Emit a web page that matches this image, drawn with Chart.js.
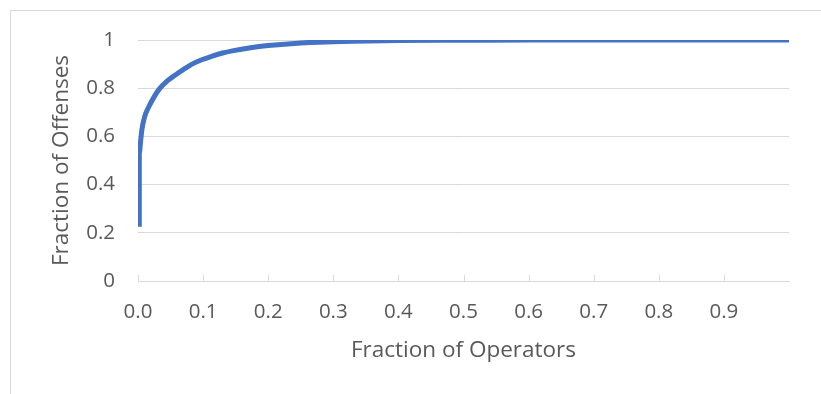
<!DOCTYPE html>
<html>
<head>
<meta charset="utf-8">
<script src="https://cdn.jsdelivr.net/npm/chart.js@4"></script>
<style>
  html, body { margin: 0; padding: 0; background: #ffffff; overflow: hidden; }
  #wrap { position: relative; width: 821px; height: 394px; }
  #frame { position: absolute; left: 10px; top: 10px; width: 900px; height: 500px; border: 1px solid #d9d9d9; }
  #c { position: absolute; left: 0; top: 0; }
</style>
</head>
<body>
<div id="wrap">
  <div id="frame"></div>
  <canvas id="c" width="821" height="394"></canvas>
</div>
<script>
// Data
const fractionOperators = [0.002, 0.002, 0.004, 0.006, 0.010, 0.017, 0.025, 0.032, 0.045, 0.058, 0.070, 0.083, 0.096, 0.114, 0.130, 0.145, 0.173, 0.200, 0.250, 0.300, 0.330, 0.400, 0.500, 0.600, 0.700, 0.800, 0.900, 1.000];
const fractionOffenses  = [0.225, 0.530, 0.580, 0.628, 0.680, 0.725, 0.765, 0.794, 0.830, 0.856, 0.878, 0.900, 0.916, 0.933, 0.946, 0.955, 0.968, 0.977, 0.988, 0.993, 0.995, 0.998, 0.999, 1.000, 1.000, 1.000, 1.000, 1.000];

const xTickValues = [0, 0.1, 0.2, 0.3, 0.4, 0.5, 0.6, 0.7, 0.8, 0.9];
const xTickLabels = ["0.0", "0.1", "0.2", "0.3", "0.4", "0.5", "0.6", "0.7", "0.8", "0.9"];
const yTickValues = [0, 0.2, 0.4, 0.6, 0.8, 1];
const yTickLabels = ["0", "0.2", "0.4", "0.6", "0.8", "1"];

const xTitle = "Fraction of Operators";
const yTitle = "Fraction of Offenses";

const points = fractionOperators.map((x, i) => ({ x: x, y: fractionOffenses[i] }));

const textColor = '#595959';
const gridColor = '#d9d9d9';
const tickFont = { family: "'Open Sans', sans-serif", size: 20.5 };
const titleFont = { family: "'Open Sans', sans-serif", size: 22.5 };

const innerTicks = {
  id: 'innerTicks',
  beforeDatasetsDraw(chart) {
    const xs = chart.scales.x;
    const ctx = chart.ctx;
    const y0 = chart.chartArea.bottom;
    ctx.save();
    ctx.strokeStyle = gridColor;
    ctx.lineWidth = 1;
    ctx.beginPath();
    xTickValues.forEach(v => {
      const px = Math.round(xs.getPixelForValue(v)) + 0.5;
      ctx.moveTo(px, y0);
      ctx.lineTo(px, y0 - 6);
    });
    ctx.stroke();
    ctx.restore();
  }
};

new Chart(document.getElementById('c'), {
  type: 'line',
  data: {
    datasets: [{
      data: points,
      borderColor: '#4472C4',
      backgroundColor: '#4472C4',
      borderWidth: 5,
      pointRadius: 0,
      fill: false,
      cubicInterpolationMode: 'monotone',
      borderCapStyle: 'butt'
    }]
  },
  options: {
    responsive: false,
    animation: false,
    events: [],
    layout: { autoPadding: false, padding: { left: 30, right: 32, top: 40, bottom: 10 } },
    plugins: { legend: { display: false }, tooltip: { enabled: false } },
    scales: {
      x: {
        type: 'linear',
        min: 0,
        max: 1,
        afterFit(s) { s.height = 103; },
        afterBuildTicks(s) { s.ticks = xTickValues.map(v => ({ value: v })); },
        ticks: {
          color: textColor,
          font: tickFont,
          padding: 19,
          maxRotation: 0,
          autoSkip: false,
          callback: (v, i) => xTickLabels[i]
        },
        grid: { display: false, drawTicks: false },
        border: { display: true, color: gridColor, width: 1 },
        title: { display: true, text: xTitle, color: textColor, font: titleFont, padding: { top: 0, bottom: 20 } }
      },
      y: {
        type: 'linear',
        min: 0,
        max: 1,
        afterFit(s) { s.width = 108; },
        afterBuildTicks(s) { s.ticks = yTickValues.map(v => ({ value: v })); },
        ticks: {
          color: textColor,
          font: tickFont,
          padding: 23,
          autoSkip: false,
          callback: (v, i) => yTickLabels[i]
        },
        grid: { color: gridColor, lineWidth: 1, drawTicks: false },
        border: { display: false },
        title: { display: true, text: yTitle, color: textColor, font: titleFont, padding: { top: 18, bottom: 0 } }
      }
    }
  },
  plugins: [innerTicks]
});
</script>
</body>
</html>
